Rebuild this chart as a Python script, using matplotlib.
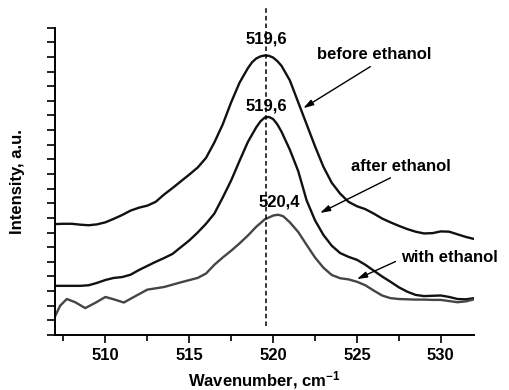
#!/usr/bin/env python3
"""Raman band of Si around 520 cm-1 before, with and after ethanol."""

import matplotlib

matplotlib.use("Agg")
import matplotlib.pyplot as plt
from matplotlib.ticker import MultipleLocator, NullFormatter

# before ethanol (top black curve)
BEFORE_X = [
    507.0, 507.5, 508.0, 508.5, 509.0, 509.5, 510.0, 510.5, 511.0, 511.5,
    512.0, 512.5, 513.0, 513.5, 514.0, 514.5, 515.0, 515.5, 516.0, 516.5,
    517.0, 517.5, 518.0, 518.5, 518.75, 519.0, 519.25, 519.5, 519.75, 520.0,
    520.25, 520.5, 521.0, 521.5, 522.0, 522.5, 523.0, 523.5, 524.0, 524.5,
    525.0, 525.5, 526.0, 526.5, 527.0, 527.5, 528.0, 528.5, 529.0, 529.5,
    530.0, 530.5, 531.0, 531.5, 532.0,
]
BEFORE_Y = [
    3.29, 3.30, 3.30, 3.27, 3.25, 3.28, 3.35, 3.47, 3.60, 3.75,
    3.85, 3.92, 4.05, 4.30, 4.52, 4.75, 4.98, 5.22, 5.55, 6.08,
    6.70, 7.45, 8.12, 8.62, 8.82, 8.95, 9.02, 9.05, 9.04, 8.98,
    8.86, 8.70, 8.20, 7.45, 6.70, 5.95, 5.25, 4.70, 4.33, 4.05,
    3.90, 3.80, 3.65, 3.48, 3.35, 3.23, 3.12, 3.03, 2.97, 2.98,
    3.04, 3.03, 2.94, 2.85, 2.78,
]

# after ethanol (middle black curve)
AFTER_X = [
    507.0, 507.5, 508.0, 508.5, 509.0, 509.5, 510.0, 510.5, 511.0, 511.5,
    512.0, 512.5, 513.0, 513.5, 514.0, 514.5, 515.0, 515.5, 516.0, 516.5,
    517.0, 517.5, 518.0, 518.5, 519.0, 519.25, 519.5, 519.75, 520.0, 520.25,
    520.5, 521.0, 521.5, 522.0, 522.5, 523.0, 523.5, 524.0, 524.5, 525.0,
    525.5, 526.0, 526.5, 527.0, 527.5, 528.0, 528.5, 529.0, 529.5, 530.0,
    530.5, 531.0, 531.5, 532.0,
]
AFTER_Y = [
    1.18, 1.18, 1.18, 1.18, 1.20, 1.28, 1.38, 1.45, 1.48, 1.56,
    1.72, 1.86, 2.00, 2.13, 2.27, 2.50, 2.73, 3.00, 3.30, 3.65,
    4.20, 4.78, 5.45, 6.10, 6.60, 6.80, 6.93, 6.95, 6.88, 6.70,
    6.45, 5.83, 5.10, 4.10, 3.42, 2.92, 2.55, 2.30, 2.17, 2.07,
    1.90, 1.70, 1.50, 1.32, 1.13, 0.98, 0.87, 0.83, 0.84, 0.85,
    0.80, 0.73, 0.72, 0.76,
]

# with ethanol (grey curve), has small wiggles on the left
WITH_X = [
    507.0, 507.3, 507.7, 508.2, 508.8, 509.4, 510.0, 510.5, 511.1, 511.7,
    512.5, 513.5, 514.5, 515.5, 516.0, 516.5, 517.0, 517.5, 518.0, 518.5,
    519.0, 519.5, 520.0, 520.3, 520.6, 521.0, 521.5, 522.0, 522.5, 523.0,
    523.5, 524.0, 524.5, 525.0, 525.5, 526.0, 526.5, 527.0, 527.5, 528.0,
    528.5, 529.0, 529.5, 530.0, 530.5, 531.0, 531.5, 532.0,
]
WITH_Y = [
    0.14, 0.50, 0.73, 0.62, 0.42, 0.60, 0.80, 0.72, 0.61, 0.80,
    1.05, 1.14, 1.30, 1.45, 1.60, 1.90, 2.15, 2.38, 2.63, 2.90,
    3.20, 3.45, 3.58, 3.61, 3.56, 3.35, 3.02, 2.58, 2.15, 1.80,
    1.55, 1.44, 1.40, 1.32, 1.20, 1.02, 0.85, 0.76, 0.73, 0.72,
    0.71, 0.71, 0.70, 0.70, 0.66, 0.62, 0.65, 0.72,
]

PEAK_LINE = 519.6
PEAK_LABELS = ["519,6", "519,6", "520,4"]
CURVE_LABELS = ["before ethanol", "after ethanol", "with ethanol"]

plt.rcParams["font.family"] = ["Liberation Sans", "DejaVu Sans"]
plt.rcParams["font.weight"] = "bold"
plt.rcParams["axes.labelweight"] = "bold"
plt.rcParams["font.size"] = 12
plt.rcParams["mathtext.fontset"] = "custom"
plt.rcParams["mathtext.rm"] = "Liberation Sans:bold"
plt.rcParams["mathtext.it"] = "Liberation Sans:bold"
plt.rcParams["mathtext.bf"] = "Liberation Sans:bold"

fig = plt.figure(figsize=(5.1, 3.9), dpi=100)
ax = fig.add_axes([0.108, 0.141, 0.822, 0.788])

line_kw = dict(lw=1.7, solid_joinstyle="round", solid_capstyle="round")
ax.plot(BEFORE_X, BEFORE_Y, color="#111111", **line_kw)
ax.plot(AFTER_X, AFTER_Y, color="#111111", **line_kw)
ax.plot(WITH_X, WITH_Y, color="#454545", **line_kw)

ax.plot([PEAK_LINE, PEAK_LINE], [-0.2, 10.7], color="black", lw=1.1,
        ls=(0, (3, 2)), clip_on=False)

ax.set_xlim(507, 532)
ax.set_ylim(-0.5, 10)

# peak position labels
ax.text(519.6, 9.63, PEAK_LABELS[0], ha="center", va="center")
ax.text(519.6, 7.33, PEAK_LABELS[1], ha="center", va="center")
ax.text(520.38, 4.03, PEAK_LABELS[2], ha="center", va="center")

# curve labels with arrows
arrow = dict(arrowstyle="-|>,head_length=0.5,head_width=0.15", color="black",
             lw=1.0, shrinkA=0, shrinkB=0)
ax.text(526.03, 9.07, CURVE_LABELS[0], ha="center", va="center")
ax.annotate("", xy=(521.8, 7.25), xytext=(525.8, 8.67), arrowprops=arrow)
ax.text(527.64, 5.26, CURVE_LABELS[1], ha="center", va="center")
ax.annotate("", xy=(522.8, 3.67), xytext=(527.0, 4.87), arrowprops=arrow)
ax.text(530.5, 2.14, CURVE_LABELS[2], ha="center", va="center", clip_on=False)
ax.annotate("", xy=(525.0, 1.41), xytext=(527.3, 2.01), arrowprops=arrow)

ax.set_xlabel("Wavenumber, cm$^{-1}$", labelpad=4)
ax.set_ylabel("Intensity, a.u.", labelpad=12)

ax.xaxis.set_major_locator(MultipleLocator(5))
ax.xaxis.set_minor_locator(MultipleLocator(2.5))
ax.yaxis.set_major_locator(MultipleLocator(0.5))
ax.yaxis.set_major_formatter(NullFormatter())
ax.tick_params(axis="x", which="major", direction="out", length=6, width=1.2)
ax.tick_params(axis="x", which="minor", direction="out", length=4, width=1.2)
ax.tick_params(axis="y", which="major", direction="out", length=6, width=1.2)
for lbl in ax.get_xticklabels():
    lbl.set_fontweight("bold")

for side in ("top", "right"):
    ax.spines[side].set_visible(False)
for side in ("left", "bottom"):
    ax.spines[side].set_linewidth(1.4)

fig.savefig("out.png", dpi=100)
plt.close(fig)
